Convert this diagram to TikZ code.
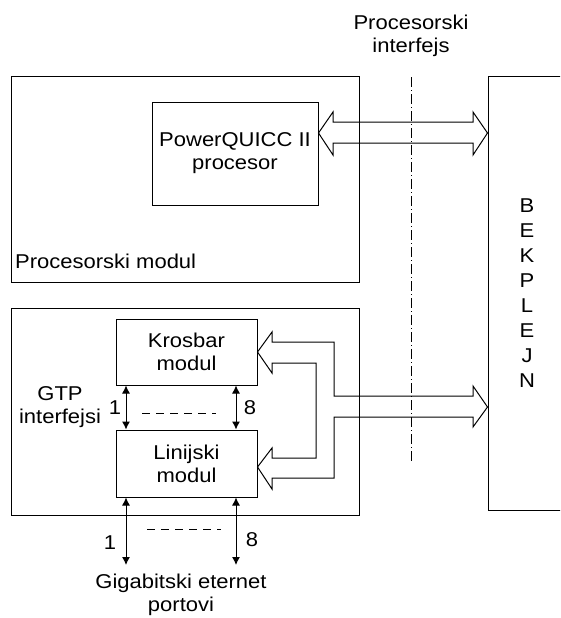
\documentclass[tikz,border=0pt]{standalone}
\usepackage{fontspec}
\setmainfont{Liberation Sans}[FakeStretch=1.1]
\usetikzlibrary{arrows.meta,positioning}
\tikzset{
  modbox/.style={draw, line width=1pt, inner sep=0pt},
  lbl/.style={font=\fontsize{20}{23}\selectfont, align=center, inner sep=0pt},
  sig/.style={{Latex[length=8pt,width=8pt]}-{Latex[length=8pt,width=8pt]}, line width=1pt},
  bus/.style={line width=1pt, line join=miter},
}
\begin{document}
\begin{tikzpicture}[x=1pt,y=-1pt]
	\useasboundingbox (0,0) rectangle (560,618);
	\clip (0,0) rectangle (560,618);
	% moduli
	\node[modbox, minimum width=348pt, minimum height=206pt] (procmod) at (185,179) {};
	\node[modbox, minimum width=348pt, minimum height=207pt] (gtpmod) at (185,411.5) {};
	\node[modbox, minimum width=166pt, minimum height=103pt] (ppc) at (235,153.5) {};
	\node[modbox, minimum width=141pt, minimum height=66pt] (kros) at (186.5,352) {};
	\node[modbox, minimum width=141pt, minimum height=67pt] (lin) at (186.5,463.5) {};
	\node[modbox, minimum width=90pt, minimum height=434pt] (bekplejn) at (533,293) {};
	% tekst
	\node[lbl] (ppctxt) at (ppc) {PowerQUICC II\\procesor};
	\node[lbl] (krostxt) at (kros) {Krosbar\\modul};
	\node[lbl] (lintxt) at (lin) {Linijski\\modul};
	\node[lbl, anchor=base west] (proctxt) at (15,268) {Procesorski modul};
	\node[lbl] (ifctxt) at (411,36) {Procesorski\\interfejs};
	\node[lbl] (gtptxt) at (60,407) {GTP\\interfejsi};
	\node[lbl] (gbetxt) at (181,595) {Gigabitski eternet\\portovi};
	\foreach \l [count=\i] in {B,E,K,P,L,E,J,N}
		\node[lbl, anchor=base] (bp\i) at (527,{187+25*\i}) {\l};
	% interfejs
	\draw[line width=1pt, dash pattern=on 10pt off 3pt on 1pt off 3pt] (411,77) -- (411,462);
	% GTP veze
	\draw[sig] ([xshift=-60.5pt]kros.south) -- ([xshift=-60.5pt]lin.north);
	\draw[sig] ([xshift=49.5pt]kros.south) -- ([xshift=49.5pt]lin.north);
	\draw[line width=1pt, dash pattern=on 8pt off 6pt] (142,413) -- (216,413);
	\node[lbl] (g1top) at (115,408) {1};
	\node[lbl] (g8top) at (250,408) {8};
	\coordinate (port1) at (126,565);
	\coordinate (port8) at (236,565);
	\draw[sig] ([xshift=-60.5pt]lin.south) -- (port1);
	\draw[sig] ([xshift=49.5pt]lin.south) -- (port8);
	\draw[line width=1pt, dash pattern=on 8pt off 6pt] (147,529) -- (221,529);
	\node[lbl] (p1) at (110,542.5) {1};
	\node[lbl] (p8) at (252,540) {8};
	% magistrale
	\draw[bus] (ppc.east |- 0,133) -- (333,112) -- (333,122) -- (473,122) -- (473,112)
		-- (bekplejn.west |- 0,133) -- (473,155) -- (473,143) -- (333,143) -- (333,155) -- cycle;
	\draw[bus] (kros.east) -- (272,332) -- (272,342) -- (334,342) -- (334,396) -- (473,396)
		-- (473,386) -- (bekplejn.west |- 0,407) -- (473,427) -- (473,417) -- (334,417)
		-- (334,478) -- (272,478) -- (272,489) -- (lin.east |- 0,467) -- (272,448) -- (272,458)
		-- (316,458) -- (316,363) -- (272,363) -- (272,373) -- cycle;
\end{tikzpicture}
\end{document}
